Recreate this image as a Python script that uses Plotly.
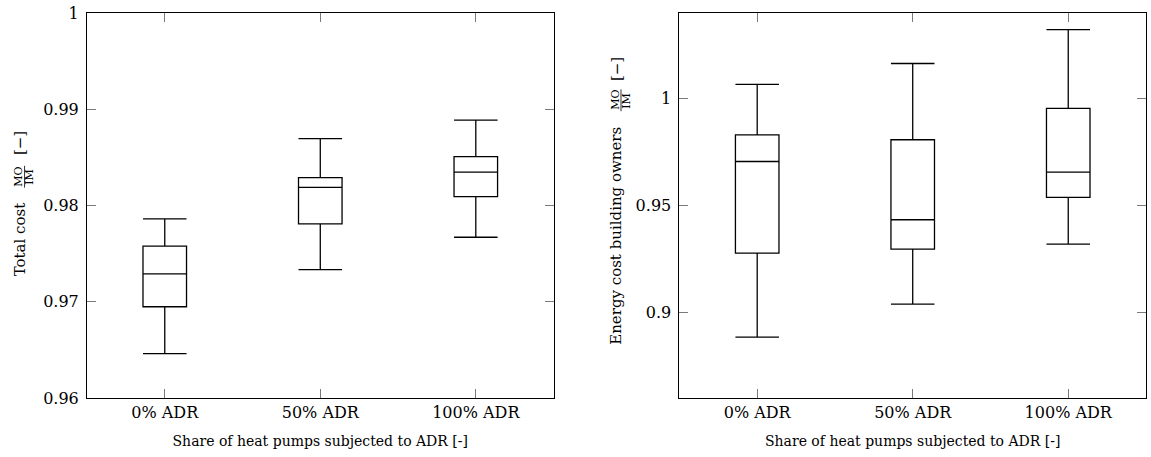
import plotly.graph_objects as go

# Scenario categories
categories = ["0% ADR", "50% ADR", "100% ADR"]

# Total cost ratio MO/IM: box statistics per scenario
total_lower = [0.96461, 0.97333, 0.97670]
total_q1 = [0.96948, 0.97810, 0.98093]
total_median = [0.97289, 0.98189, 0.98347]
total_q3 = [0.97577, 0.98289, 0.98508]
total_upper = [0.97862, 0.98694, 0.98888]

# Energy cost of building owners MO/IM: box statistics per scenario
energy_lower = [0.88843, 0.90389, 0.93194]
energy_q1 = [0.92778, 0.92963, 0.95384]
energy_median = [0.97056, 0.94333, 0.96556]
energy_q3 = [0.98306, 0.98074, 0.99537]
energy_upper = [1.00667, 1.01639, 1.03227]

# Axis ticks
total_tickvals = [0.96, 0.97, 0.98, 0.99, 1.0]
total_ticktext = ["0.96", "0.97", "0.98", "0.99", "1"]
energy_tickvals = [0.9, 0.95, 1.0]
energy_ticktext = ["0.9", "0.95", "1"]

x_title = "Share of heat pumps subjected to ADR [-]"

W, H = 1151, 457
ML, MR, MT, MB = 87, 4, 10, 59
PW, PH = W - ML - MR, H - MT - MB

FONT = "DejaVu Serif"
FS_TICK = 16
FS_XTITLE = 14
FS_YTITLE = 15


def px_x(px):
    return (px - ML) / PW


def px_y(py):
    return (H - MB - py) / PH


fig = go.Figure()

box_style = dict(
    line=dict(color="black", width=1.3),
    fillcolor="rgba(255,255,255,0)",
    whiskerwidth=1,
    width=0.28,
    showlegend=False,
    hoverinfo="skip",
)

fig.add_trace(go.Box(
    x=categories, q1=total_q1, median=total_median, q3=total_q3,
    lowerfence=total_lower, upperfence=total_upper,
    xaxis="x", yaxis="y", **box_style,
))
fig.add_trace(go.Box(
    x=categories, q1=energy_q1, median=energy_median, q3=energy_q3,
    lowerfence=energy_lower, upperfence=energy_upper,
    xaxis="x2", yaxis="y2", **box_style,
))

axis_common = dict(
    showgrid=False, zeroline=False,
    showline=True, linecolor="black", linewidth=1,
    mirror="ticks", ticks="inside", ticklen=9, tickwidth=1,
    tickcolor="#7a7a7a",
    tickfont=dict(family=FONT, size=FS_TICK, color="black"),
)

dom_left = [0, px_x(554)]
dom_right = [px_x(680), 1]

fig.update_layout(
    width=W, height=H,
    margin=dict(l=ML, r=MR, t=MT, b=MB),
    paper_bgcolor="white", plot_bgcolor="white",
    font=dict(family=FONT, size=FS_TICK, color="black"),
    xaxis=dict(
        domain=dom_left, type="category", categoryorder="array",
        categoryarray=categories, range=[-0.5, 2.5],
        title=dict(text=x_title, font=dict(family=FONT, size=FS_XTITLE), standoff=14),
        anchor="y", **axis_common,
    ),
    yaxis=dict(
        domain=[0, 1], range=[0.96, 1.0],
        tickvals=total_tickvals, ticktext=total_ticktext,
        anchor="x", ticklabelstandoff=4, **axis_common,
    ),
    xaxis2=dict(
        domain=dom_right, type="category", categoryorder="array",
        categoryarray=categories, range=[-0.5, 2.5],
        title=dict(text=x_title, font=dict(family=FONT, size=FS_XTITLE), standoff=14),
        anchor="y2", **axis_common,
    ),
    yaxis2=dict(
        domain=[0, 1], range=[0.86, 1.04],
        tickvals=energy_tickvals, ticktext=energy_ticktext,
        anchor="x2", ticklabelstandoff=4, **axis_common,
    ),
)

# Rotated y-axis titles with a stacked MO/IM fraction
def y_title(label, x_px, label_center, frac_center, bracket_center):
    common = dict(xref="paper", yref="paper", showarrow=False, textangle=-90,
                  xanchor="center", yanchor="middle")
    fig.add_annotation(text=label, x=px_x(x_px), y=px_y(label_center),
                       font=dict(family=FONT, size=FS_YTITLE), **common)
    fig.add_annotation(text="MO", x=px_x(x_px - 1), y=px_y(frac_center),
                       font=dict(family=FONT, size=11), **common)
    fig.add_annotation(text="IM", x=px_x(x_px + 10), y=px_y(frac_center),
                       font=dict(family=FONT, size=11), **common)
    fig.add_shape(type="line", xref="paper", yref="paper",
                  x0=px_x(x_px + 4.5), x1=px_x(x_px + 4.5),
                  y0=px_y(frac_center - 11), y1=px_y(frac_center + 11),
                  line=dict(color="black", width=0.8))
    fig.add_annotation(text="[−]", x=px_x(x_px), y=px_y(bracket_center),
                       font=dict(family=FONT, size=FS_YTITLE), **common)


y_title("Total cost", 20, 238, 175, 141)
y_title("Energy cost building owners", 617, 235, 98, 67)

fig.write_html("out.html")
